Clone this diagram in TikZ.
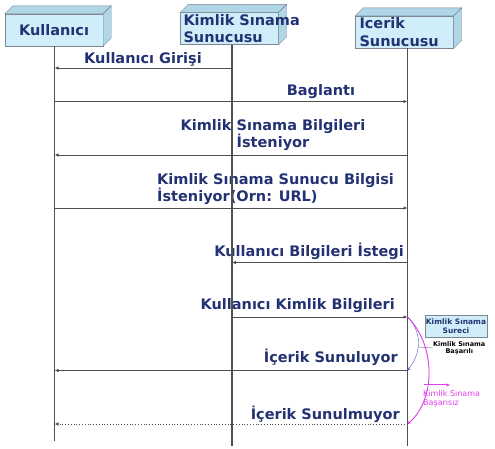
\documentclass[tikz,border=0pt]{standalone}
\usepackage{fontspec}
\setmainfont{DejaVu Sans}
\usetikzlibrary{positioning,arrows.meta}

\definecolor{boxcyan}{RGB}{208,238,250}
\definecolor{boxside}{RGB}{175,215,232}
\definecolor{boxedge}{RGB}{125,135,145}
\definecolor{navy}{RGB}{35,50,115}
\definecolor{linegray}{RGB}{80,80,80}
\definecolor{pinkline}{RGB}{225,60,235}
\definecolor{bluecurve}{RGB}{70,90,200}

% top and right face of an actor box
\newcommand{\boxdepth}[1]{%
  \filldraw[fill=boxside, draw=boxedge] (#1.north west) -- ++(8,-8) -- ([shift={(8,-8)}]#1.north east) -- (#1.north east) -- cycle;
  \filldraw[fill=boxside, draw=boxedge] (#1.north east) -- ++(8,-8) -- ([shift={(8,-8)}]#1.south east) -- (#1.south east) -- cycle;
}

\begin{document}
\begin{tikzpicture}[
    x=1pt, y=-1pt,
    actor/.style={draw=boxedge, fill=boxcyan, minimum width=98pt, minimum height=32pt, inner sep=2pt},
    lbl/.style={text=navy, inner sep=0pt, font=\bfseries\fontsize{14.5}{17.5}\selectfont},
    msg/.style={draw=linegray, line width=0.8pt, -{Latex[length=4pt,width=3.5pt]}},
    life/.style={draw=linegray, line width=1.5pt}
]
    \useasboundingbox (0,0) rectangle (495,448);

    % actors
    \node[actor, lbl, inner sep=2pt] (kul) at (54,30) {Kullanıcı};
    \boxdepth{kul}
    \node[actor] (ksun) at (229.5,28.5) {};
    \boxdepth{ksun}
    \node[lbl, anchor=west, align=left] (ksunTxt) at ([xshift=3pt]ksun.west) {Kimlik Sınama\\Sunucusu};
    \node[actor] (icsun) at (404.5,32) {};
    \boxdepth{icsun}
    \node[lbl, anchor=west, align=left] (icsunTxt) at ([xshift=4pt]icsun.west) {Icerik\\Sunucusu};

    % message labels
    \node[lbl] (giris) at (143,59) {Kullanıcı Girişi};
    \node[lbl] (baglanti) at (321,92) {Baglantı};
    \node[lbl, align=center] (istek1) at (273,135) {Kimlik Sınama Bilgileri\\İsteniyor};
    \node[lbl, align=left, anchor=west] (istek2) at (157,189) {Kimlik Sınama Sunucu Bilgisi\\İsteniyor(Orn: URL)};
    \node[lbl, anchor=east] (istek3) at (404,251) {Kullanıcı Bilgileri İstegi};
    \node[lbl, anchor=east] (kimlikB) at (395,306) {Kullanıcı Kimlik Bilgileri};
    \node[lbl, anchor=east] (sunuluyor) at (398,357) {İçerik Sunuluyor};
    \node[lbl, anchor=east] (sunulmuyor) at (400,414) {İçerik Sunulmuyor};

    % lifelines
    \coordinate (kulTop) at (54.5,46);
    \coordinate (kulBot) at (54.5,441);
    \coordinate (ksunTop) at (232,45);
    \coordinate (ksunBot) at (232,446);
    \coordinate (icTop) at (407.5,48);
    \coordinate (icBot) at (407.5,446);
    \draw[life] (kulTop) -- (kulBot);
    \draw[life] (ksunTop) -- (ksunBot);
    \draw[life] (icTop) -- (icBot);

    % message rows
    \coordinate (r1) at (0,68);
    \coordinate (r2) at (0,101.5);
    \coordinate (r3) at (0,155);
    \coordinate (r4) at (0,208);
    \coordinate (r5) at (0,262.5);
    \coordinate (r6) at (0,317);
    \coordinate (r7) at (0,370.5);
    \coordinate (r8) at (0,424);

    \draw[msg] (ksunTop |- r1) -- (kulTop |- r1);
    \draw[msg] (kulTop |- r2) -- (icTop |- r2);
    \draw[msg] (icTop |- r3) -- (kulTop |- r3);
    \draw[msg] (kulTop |- r4) -- (icTop |- r4);
    \draw[msg] (icTop |- r5) -- (ksunTop |- r5);
    \draw[msg] (ksunTop |- r6) -- (icTop |- r6);
    \draw[msg] (icTop |- r7) -- (kulTop |- r7);
    \draw[msg, dotted] (icTop |- r8) -- (kulTop |- r8);

    % authentication notes
    \node[draw=boxedge, fill=boxcyan, text=navy, align=center, inner sep=1pt,
          minimum width=62pt, minimum height=22pt,
          font=\bfseries\fontsize{7.5}{8.5}\selectfont] (surec) at (456,326) {Kimlik Sınama\\Sureci};
    \node[align=center, inner sep=0pt, anchor=north west,
          font=\bfseries\fontsize{6.5}{7.5}\selectfont] (basarili) at (433,341) {Kimlik Sınama\\Başarılı};
    \node[text=pinkline, align=left, inner sep=0pt, anchor=north west,
          font=\fontsize{8}{9.5}\selectfont] (basarisiz) at (423,390) {Kimlik Sınama\\Başarısız};

    \draw[bluecurve, -{Stealth[length=3pt,width=3pt]}] (icTop |- r6) .. controls (422,332) and (422,352) .. (icTop |- r7);
    \coordinate (brace) at (419,347);
    \draw[bluecurve!50!gray] (brace) -- (basarili.west);
    \draw[pinkline, line width=0.9pt, -{Stealth[length=3pt,width=3pt]}] (icTop |- r6) .. controls (436,345) and (436,400) .. (icTop |- r8);
    \coordinate (okBas) at (424,385);
    \coordinate (okSon) at (450,385);
    \draw[pinkline, double, -{Stealth[length=4pt]}] (okBas) -- (okSon);
\end{tikzpicture}
\end{document}
